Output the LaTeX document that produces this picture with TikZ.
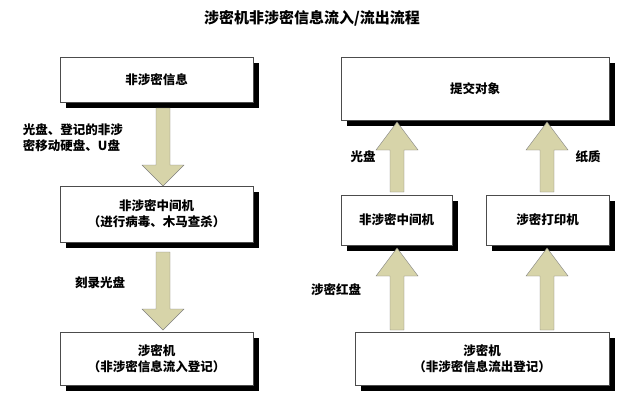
\documentclass[tikz,border=0pt]{standalone}
\usepackage{fontspec}
\newfontfamily\cjk{Noto Sans CJK SC}
\newcommand\blockdown[3]{\path[barrowpath] (#1-7,#2) -- (#1+7,#2) -- (#1+7,#3-21) -- (#1+21,#3-21) -- (#1,#3) -- (#1-21,#3-21) -- (#1-7,#3-21) -- cycle;}
\newcommand\blockup[3]{\path[barrowpath] (#1-7,#2) -- (#1+7,#2) -- (#1+7,#3+28) -- (#1+21,#3+28) -- (#1,#3) -- (#1-21,#3+28) -- (#1-7,#3+28) -- cycle;}
\begin{document}
\begin{tikzpicture}[x=1pt,y=-1pt,font=\cjk\bfseries\fontsize{12.5}{16}\selectfont,
 box/.style={draw=black!70,fill=white,align=center,inner sep=0pt},
 shadowbox/.style={fill=black},
 barrowpath/.style={draw=gray,fill=olive!25!white!85!gray},
 lbl/.style={inner sep=1pt,align=left}]
\useasboundingbox (0,0) rectangle (624,402);
\node[font=\cjk\bfseries\fontsize{15}{18}\selectfont] (title) at (312,18) {涉密机非涉密信息流入/流出流程};
% left column
\fill[shadowbox] (66,63) rectangle (259,108);
\node[box,minimum width=193pt,minimum height=45pt] (a1) at (156.5,79.5) {非涉密信息};
\fill[shadowbox] (66,192) rectangle (259,248);
\node[box,minimum width=193pt,minimum height=56pt] (a2) at (156.5,214) {非涉密中间机\\（进行病毒、木马查杀）};
\fill[shadowbox] (66,338) rectangle (259,391);
\node[box,minimum width=193pt,minimum height=53pt] (a3) at (156.5,358.5) {涉密机\\（非涉密信息流入登记）};
\blockdown{163}{108}{186}
\blockdown{163}{252}{330}
\node[lbl] (l1) at (73,138) {光盘、登记的非涉\\ 密移动硬盘、U盘};
\node[lbl] (l2) at (100,283) {刻录光盘};
% right column
\fill[shadowbox] (347,63) rectangle (615,126);
\node[box,minimum width=268pt,minimum height=63pt] (b1) at (475,88.5) {提交对象};
\fill[shadowbox] (347,201) rectangle (458,251);
\node[box,minimum width=111pt,minimum height=50pt] (b2) at (396.5,220) {非涉密中间机};
\fill[shadowbox] (492,201) rectangle (615,251);
\node[box,minimum width=123pt,minimum height=50pt] (b3) at (547.5,220) {涉密打印机};
\fill[shadowbox] (361,338) rectangle (615,391);
\node[box,minimum width=254pt,minimum height=53pt] (b4) at (482,358.5) {涉密机\\（非涉密信息流出登记）};
\blockup{397}{192}{122}
\blockup{547}{192}{122}
\blockup{397}{330}{248}
\blockup{547}{330}{248}
\node[lbl] (l3) at (363,157) {光盘};
\node[lbl] (l4) at (588,157) {纸质};
\node[lbl] (l5) at (336,290) {涉密红盘};
\end{tikzpicture}
\end{document}
